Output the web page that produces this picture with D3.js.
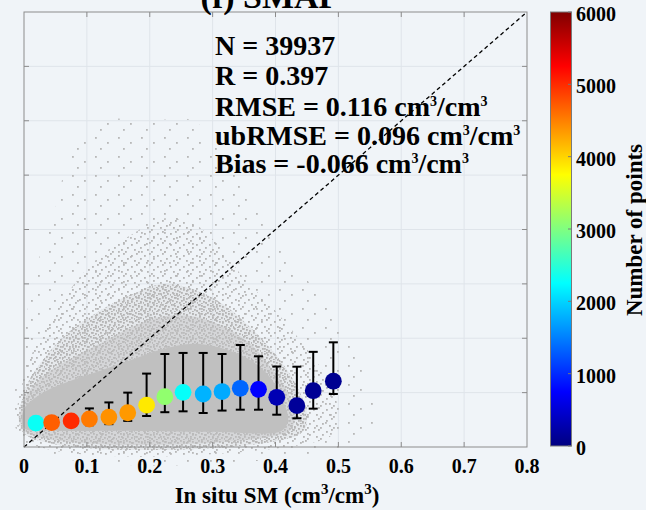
<!DOCTYPE html>
<html><head><meta charset="utf-8">
<script src="https://cdn.jsdelivr.net/npm/d3@7"></script>
<style>body{margin:0;background:#f0f4f8;} svg{display:block}</style>
</head><body><svg id="c" width="646" height="510"></svg>
<script>
// ---------- data ----------
const xTicks = [0, 0.1, 0.2, 0.3, 0.4, 0.5, 0.6, 0.7, 0.8];
const xTickLabels = ["0", "0.1", "0.2", "0.3", "0.4", "0.5", "0.6", "0.7", "0.8"];
const cbTicks = [0, 1000, 2000, 3000, 4000, 5000, 6000];
const binX    = [0.019, 0.044, 0.075, 0.104, 0.135, 0.165, 0.195, 0.224, 0.253, 0.285, 0.315, 0.344, 0.373, 0.402, 0.434, 0.460, 0.492];
const binMean = [0.044, 0.045, 0.048, 0.0515, 0.055, 0.063, 0.077, 0.0925, 0.1005, 0.0975, 0.102, 0.108, 0.106, 0.0914, 0.076, 0.1035, 0.121];
const binLow  = [0.035, 0.036, 0.038, 0.040, 0.042, 0.048, 0.057, 0.064, 0.0656, 0.0625, 0.067, 0.0686, 0.0686, 0.0594, 0.0528, 0.0705, 0.0975];
const binHigh = [0.052, 0.054, 0.058, 0.071, 0.082, 0.100, 0.135, 0.171, 0.173, 0.173, 0.171, 0.1876, 0.1668, 0.148, 0.1477, 0.175, 0.1925];
const binCount = [2300, 4700, 5000, 4530, 4400, 4350, 3880, 3100, 2280, 1800, 1750, 1350, 750, 300, 150, 120, 100];
// outlines of the grey point cloud (in situ SM, satellite SM)
const cloudSparse = [[0.0,0.008],[0.0,0.2],[0.02,0.33],[0.05,0.44],[0.08,0.56],[0.12,0.6],[0.2,0.6],[0.27,0.6],[0.3,0.56],[0.34,0.5],[0.37,0.45],[0.42,0.35],[0.47,0.28],[0.52,0.2],[0.55,0.1],[0.56,0.04],[0.54,0.008]];
const cloudMedium = [[0.0,0.015],[0.0,0.13],[0.04,0.23],[0.08,0.3],[0.12,0.35],[0.17,0.39],[0.22,0.42],[0.27,0.41],[0.31,0.37],[0.35,0.31],[0.4,0.25],[0.45,0.18],[0.49,0.11],[0.5,0.04],[0.48,0.015]];
const cloudDense  = [[0.0,0.025],[0.0,0.1],[0.03,0.16],[0.07,0.21],[0.12,0.25],[0.17,0.28],[0.22,0.3],[0.27,0.29],[0.32,0.26],[0.36,0.22],[0.4,0.17],[0.43,0.12],[0.45,0.06],[0.44,0.025]];
const cloudInner  = [[0.0,0.03],[0.0,0.085],[0.03,0.13],[0.07,0.16],[0.12,0.19],[0.17,0.22],[0.22,0.24],[0.27,0.24],[0.32,0.22],[0.36,0.19],[0.39,0.15],[0.42,0.1],[0.43,0.05],[0.42,0.028]];
const cloudCore   = [[0.0,0.035],[0.0,0.07],[0.03,0.1],[0.07,0.12],[0.12,0.14],[0.17,0.16],[0.22,0.18],[0.27,0.19],[0.32,0.18],[0.36,0.16],[0.39,0.13],[0.41,0.09],[0.42,0.05],[0.41,0.03],[0.3,0.028],[0.15,0.03],[0.05,0.03]];
const statLines = [
  {main: "N = 39937"},
  {main: "R = 0.397"},
  {main: "RMSE = 0.116 cm", unit: true},
  {main: "ubRMSE = 0.096 cm", unit: true},
  {main: "Bias = -0.066 cm", unit: true}
];
const titleText = "(f) SMAP";

// ---------- drawing ----------
const FONT = "'Liberation Serif','Times New Roman',serif";
const svg = d3.select("#c");
svg.append("rect").attr("width",646).attr("height",510).attr("fill","#f0f4f8");
const x = d3.scaleLinear([0,0.8],[24,527]);
const y = d3.scaleLinear([0,0.8],[447,12]);

function jet(t){
  const c = v => Math.max(0, Math.min(1, v));
  const r = c(1.5 - Math.abs(4*t-3)), g = c(1.5 - Math.abs(4*t-2)), b = c(1.5 - Math.abs(4*t-1));
  return d3.rgb(r*255, g*255, b*255).formatHex();
}
const cScale = d3.scaleLinear([0,6000],[0,1]).clamp(true);

const defs = svg.append("defs");
function pattern(id, w, h, dots, col){
  const p = defs.append("pattern").attr("id",id).attr("patternUnits","userSpaceOnUse").attr("width",w).attr("height",h);
  dots.forEach(d => p.append("rect").attr("x",d[0]).attr("y",d[1]).attr("width",1.8).attr("height",1.8).attr("fill",col));
}
pattern("pS", 23, 19, [[3,4],[15,9],[8,15]], "#b8b8b8");
pattern("pM", 13, 11, [[1,2],[6,0],[10,5],[4,7],[8,9]], "#b6b6b6");
pattern("pD", 9, 8, [[0,0],[3,1],[6,2],[1,4],[5,5],[8,6],[3,7]], "#b4b4b4");

// grid
const grid = svg.append("g");
xTicks.slice(1,-1).forEach(t => {
  grid.append("line").attr("x1",x(t)).attr("x2",x(t)).attr("y1",y(0)).attr("y2",y(0.8)).attr("stroke","#dfe4ea").attr("stroke-width",1);
  grid.append("line").attr("y1",y(t)).attr("y2",y(t)).attr("x1",x(0)).attr("x2",x(0.8)).attr("stroke","#dfe4ea").attr("stroke-width",1);
});

// cloud
const area = d3.line().x(d => x(d[0])).y(d => y(d[1])).curve(d3.curveCatmullRomClosed);
svg.append("path").attr("d",area(cloudSparse)).attr("fill","url(#pS)");
svg.append("path").attr("d",area(cloudMedium)).attr("fill","url(#pM)");
svg.append("path").attr("d",area(cloudDense)).attr("fill","#c4c4c4").attr("fill-opacity",0.25);
svg.append("path").attr("d",area(cloudDense)).attr("fill","url(#pD)");
svg.append("path").attr("d",area(cloudInner)).attr("fill","#c2c2c2").attr("fill-opacity",0.45);
svg.append("path").attr("d",area(cloudCore)).attr("fill","#c0c0c0");

// stats text
const st = svg.append("g").attr("font-family",FONT).attr("font-weight","bold").attr("font-size",28).attr("fill","#000");
const base = [55, 85, 116, 145, 173];
statLines.forEach((l,i) => {
  const t = st.append("text").attr("x",215).attr("y",base[i]);
  t.append("tspan").text(l.main);
  if (l.unit){
    t.append("tspan").attr("font-size",14).attr("dy",-10).text("3");
    t.append("tspan").attr("dy",10).text("/cm");
    t.append("tspan").attr("font-size",14).attr("dy",-10).text("3");
  }
});

// 1:1 line
svg.append("line").attr("x1",x(0)).attr("y1",y(0)).attr("x2",x(0.8)).attr("y2",y(0.8))
  .attr("stroke","#000").attr("stroke-width",1.3).attr("stroke-dasharray","4,3");

// error bars
const eb = svg.append("g").attr("stroke","#000").attr("stroke-width",2);
binX.forEach((bx,i) => {
  eb.append("line").attr("x1",x(bx)).attr("x2",x(bx)).attr("y1",y(binLow[i])).attr("y2",y(binHigh[i]));
  [binLow[i], binHigh[i]].forEach(v => eb.append("line").attr("x1",x(bx)-4.5).attr("x2",x(bx)+4.5).attr("y1",y(v)).attr("y2",y(v)));
});
// bin circles
svg.append("g").selectAll("circle").data(binX).join("circle")
  .attr("cx",(d)=>x(d)).attr("cy",(d,i)=>y(binMean[i])).attr("r",8.4)
  .attr("fill",(d,i)=>jet(cScale(binCount[i])));

// axes box and ticks
const ax = svg.append("g").attr("stroke","#8c8c8c").attr("stroke-width",1);
ax.append("rect").attr("x",x(0)).attr("y",y(0.8)).attr("width",x(0.8)-x(0)).attr("height",y(0)-y(0.8)).attr("fill","none");
xTicks.slice(1,-1).forEach(t => {
  ax.append("line").attr("x1",x(t)).attr("x2",x(t)).attr("y1",y(0)).attr("y2",y(0)-5);
  ax.append("line").attr("x1",x(t)).attr("x2",x(t)).attr("y1",y(0.8)).attr("y2",y(0.8)+5);
  ax.append("line").attr("y1",y(t)).attr("y2",y(t)).attr("x1",x(0)).attr("x2",x(0)+5);
  ax.append("line").attr("y1",y(t)).attr("y2",y(t)).attr("x1",x(0.8)).attr("x2",x(0.8)-5);
});
const tl = svg.append("g").attr("font-family",FONT).attr("font-weight","bold").attr("font-size",20).attr("text-anchor","middle");
xTicks.forEach((t,i) => tl.append("text").attr("x",x(t)).attr("y",473).text(xTickLabels[i]));
const xl = svg.append("text").attr("x",277).attr("y",503).attr("font-family",FONT).attr("font-weight","bold").attr("font-size",23).attr("text-anchor","middle");
xl.append("tspan").text("In situ SM (cm");
xl.append("tspan").attr("font-size",15).attr("dy",-9).text("3");
xl.append("tspan").attr("dy",9).text("/cm");
xl.append("tspan").attr("font-size",15).attr("dy",-9).text("3");
xl.append("tspan").attr("dy",9).text(")");

// title (mostly cropped, as in the reference)
svg.append("text").attr("x",270).attr("y",8).attr("font-family",FONT).attr("font-weight","bold").attr("font-size",34).attr("text-anchor","middle").text(titleText);

// colorbar
const cb = d3.scaleLinear([0,6000],[446,12]);
const grad = defs.append("linearGradient").attr("id","jetg").attr("x1",0).attr("y1",1).attr("x2",0).attr("y2",0);
d3.range(0,1.0001,0.0625).forEach(t => grad.append("stop").attr("offset",t).attr("stop-color",jet(t)));
svg.append("rect").attr("x",550.5).attr("y",cb(6000)).attr("width",21).attr("height",cb(0)-cb(6000)).attr("fill","url(#jetg)").attr("stroke","#7a7a7a").attr("stroke-width",1);
const cbt = svg.append("g").attr("font-family",FONT).attr("font-weight","bold").attr("font-size",20);
cbTicks.forEach(t => {
  svg.append("line").attr("x1",571.5).attr("x2",568).attr("y1",cb(t)).attr("y2",cb(t)).attr("stroke","#7a7a7a");
  cbt.append("text").attr("x",576).attr("y",cb(t)+2).attr("dominant-baseline","central").text(t);
});
svg.append("text").attr("transform","translate(642,230) rotate(-90)").attr("text-anchor","middle")
  .attr("font-family",FONT).attr("font-weight","bold").attr("font-size",23).text("Number of points");
</script></body></html>
